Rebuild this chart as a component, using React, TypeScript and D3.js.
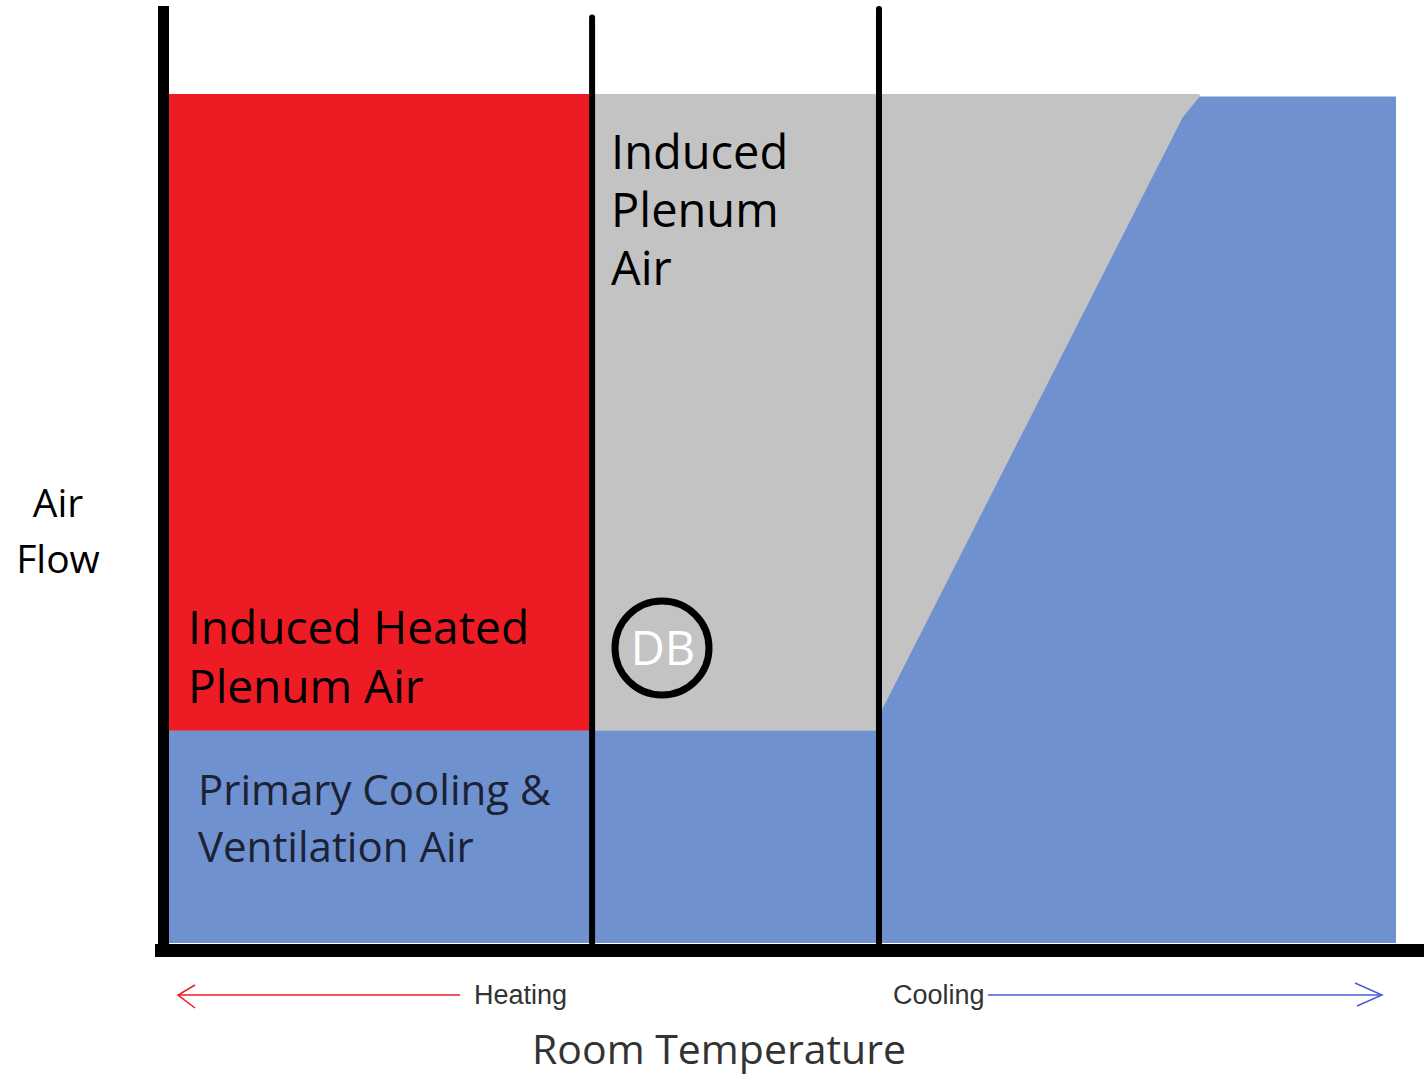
import React from "react";
import * as d3 from "d3";

// Room temperature (0 = coldest, 100 = warmest) vs air flow (% of max)
const zoneBounds = [0, 34.4, 57.7, 100]; // heating | deadband | cooling
const primaryAirTemp = [0, 34.4, 57.7, 57.8, 82.6, 84.0, 100];
const primaryAirFlow = [25, 25, 25, 26.6, 97.2, 99.7, 99.7];
const inducedTemp = [0, 34.4, 57.7, 84.0];
const inducedTotal = [100, 100, 100, 100];
const heatedPlenumRange = [0, 34.4];
const dividerTemps = [34.4, 57.7];
const dividerTops = [109, 110];

const W = 1424;
const H = 1075;

export default function App() {
  const x = d3.scaleLinear().domain([0, 100]).range([169, 1396]);
  const y = d3.scaleLinear().domain([0, 100]).range([943, 94]);

  const primaryPts = primaryAirTemp.map((t, i) => [t, primaryAirFlow[i]] as [number, number]);
  const inducedPts = inducedTemp.map((t, i) => [t, inducedTotal[i]] as [number, number]);

  const area = d3
    .area<[number, number]>()
    .x((d) => x(d[0]))
    .y0(y(0))
    .y1((d) => y(d[1]));

  const heated = d3
    .area<[number, number]>()
    .x((d) => x(d[0]))
    .y0(y(primaryAirFlow[0]))
    .y1((d) => y(d[1]));

  const font = "'Open Sans', 'Noto Sans', sans-serif";
  const red = "#ED1C24";
  const gray = "#C3C3C3";
  const blue = "#6F91D0";

  return (
    <svg
      width={W}
      height={H}
      style={{ position: "absolute", left: 0, top: 0, background: "#fff" }}
      fontFamily={font}
    >
      {/* induced plenum air (gray) */}
      <path d={area(inducedPts) || ""} fill={gray} />
      {/* induced heated plenum air (red) */}
      <path
        d={heated(heatedPlenumRange.map((t) => [t, 100] as [number, number])) || ""}
        fill={red}
      />
      {/* primary air (blue) */}
      <path d={area(primaryPts) || ""} fill={blue} />

      {/* zone dividers */}
      {dividerTemps.map((t, i) => (
        <line
          key={i}
          x1={x(t) + (i === 0 ? 1 : 2)}
          x2={x(t) + (i === 0 ? 1 : 2)}
          y1={y(dividerTops[i])}
          y2={y(0) + 4}
          stroke="#000"
          strokeWidth={6}
          strokeLinecap="round"
        />
      ))}

      {/* axes */}
      <line x1={163.5} x2={163.5} y1={6} y2={957} stroke="#000" strokeWidth={11} />
      <line x1={155} x2={W} y1={950.5} y2={950.5} stroke="#000" strokeWidth={13} />

      {/* region labels */}
      <text x={188} y={644} fontSize={46} fill="#000">Induced Heated</text>
      <text x={188} y={703} fontSize={46} fill="#000">Plenum Air</text>
      <text fontSize={47} fill="#000">
        <tspan x={611} y={169}>Induced</tspan>
        <tspan x={611} y={227}>Plenum</tspan>
        <tspan x={611} y={285}>Air</tspan>
      </text>
      <text fontSize={42} fill="#1a2233">
        <tspan x={198} y={805}>Primary Cooling &amp;</tspan>
        <tspan x={198} y={862}>Ventilation Air</tspan>
      </text>

      {/* deadband marker */}
      <circle cx={662} cy={648} r={47} fill="none" stroke="#000" strokeWidth={7} />
      <text x={663} y={665} fontSize={47} fill="#fff" textAnchor="middle">
        DB
      </text>

      {/* y axis title */}
      <text fontSize={39} fill="#000" textAnchor="middle">
        <tspan x={58} y={517}>Air</tspan>
        <tspan x={58} y={573}>Flow</tspan>
      </text>

      {/* heating / cooling arrows */}
      <line x1={x(zoneBounds[0]) + 9} x2={460} y1={995} y2={995} stroke={red} strokeWidth={1.5} />
      <polyline
        points={`${x(zoneBounds[0]) + 26},${985} ${x(zoneBounds[0]) + 9},${995} ${x(zoneBounds[0]) + 26},${1008}`}
        fill="none"
        stroke={red}
        strokeWidth={1.5}
      />
      <text x={474} y={1004} fontSize={27} fill="#333" fontFamily="'Liberation Sans', Arial, sans-serif">
        Heating
      </text>
      <text x={893} y={1004} fontSize={27} fill="#333" fontFamily="'Liberation Sans', Arial, sans-serif">
        Cooling
      </text>
      <line x1={988} x2={1382} y1={995} y2={995} stroke="#4a5bd4" strokeWidth={1.5} />
      <polyline
        points={`1355,${983} 1382,${995} 1357,${1006}`}
        fill="none"
        stroke="#4a5bd4"
        strokeWidth={1.5}
      />

      {/* x axis title */}
      <text x={719} y={1064} fontSize={41} fill="#333" textAnchor="middle">
        Room Temperature
      </text>
    </svg>
  );
}
